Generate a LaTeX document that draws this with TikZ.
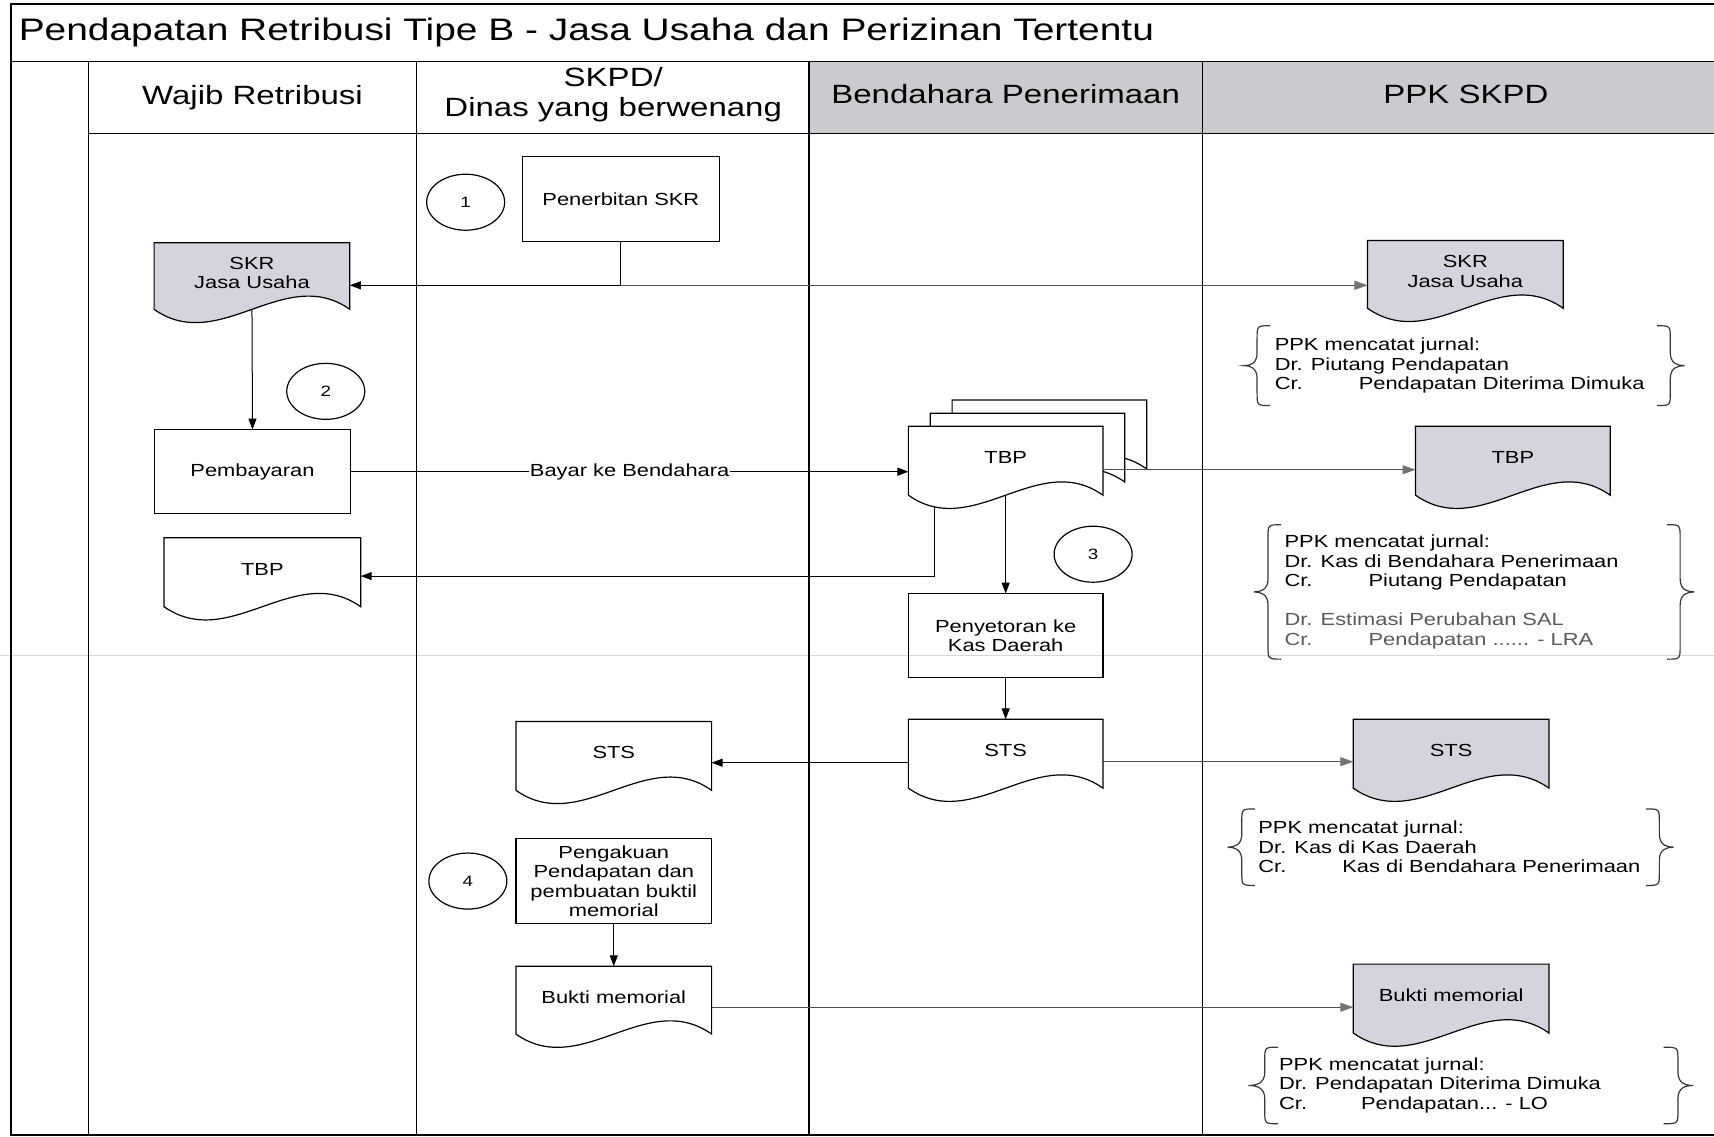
\documentclass[tikz,border=0pt]{standalone}
\usepackage{fontspec}
\setmainfont[FakeStretch=1.25]{Liberation Sans}
\usetikzlibrary{shapes.geometric,arrows.meta,calc}
\pgfdeclarelayer{background}
\pgfsetlayers{background,main}

\definecolor{hdrgray}{RGB}{203,203,207}
\definecolor{docgray}{RGB}{212,212,220}
\definecolor{linkgray}{RGB}{80,80,80}
\definecolor{tipgray}{RGB}{115,115,115}
\definecolor{bracegray}{RGB}{55,55,55}
\definecolor{softtext}{RGB}{90,90,90}
\definecolor{fold}{RGB}{215,215,215}

\newcommand{\titletxt}{\fontsize{31.1}{34}\selectfont}
\newcommand{\headtxt}{\fontsize{26.4}{29.5}\selectfont}
\newcommand{\bodytxt}{\fontsize{17.5}{19.5}\selectfont}
\newcommand{\numtxt}{\fontsize{15}{17}\selectfont}

\tikzset{
  lane/.style={line width=1.3pt},
  procbox/.style={draw, rectangle, line width=1.2pt, inner sep=0pt, outer sep=0pt, align=center, font=\bodytxt},
  docnode/.style={rectangle, inner sep=0pt, outer sep=0pt},
  doclabel/.style={align=center, font=\bodytxt, inner sep=0pt},
  docline/.style={line width=1.2pt},
  stepnum/.style={draw, ellipse, line width=1.2pt, minimum width=78pt, minimum height=56pt, inner sep=0pt, font=\numtxt},
  flow/.style={line width=1pt, -{Triangle[length=11pt,width=8pt]}},
  toppk/.style={line width=1pt, draw=linkgray, -{Triangle[length=13pt,width=9pt,color=tipgray]}},
  journal/.style={align=left, anchor=west, inner sep=0pt, font=\bodytxt},
  curlyline/.style={line width=1.2pt, draw=bracegray},
}

% document symbol: name, left x, top y, right x, side height, fill, text
\newcommand{\docshape}[7]{%
  \filldraw[docline, fill=#6] ({#2},{#3}) -- ({#4},{#3}) -- ({#4},{#3+#5})
    .. controls ({#4-(#4-#2)/3},{#3+#5-42}) and ({#2+(#4-#2)/3},{#3+#5+42}) .. ({#2},{#3+#5}) -- cycle;
  \node[docnode, minimum width={(#4-#2)*1.0931pt}, minimum height={(#5)*1.0931pt},
        label={[doclabel,yshift=3pt]center:{#7}}] (#1) at ({(#2+#4)/2},{#3+#5/2}) {};
}
% process box: name, x1, y1, x2, y2, text
\newcommand{\procshape}[6]{%
  \node[procbox, minimum width={(#4-#2)*1.0931pt}, minimum height={(#5-#3)*1.0931pt}]
    (#1) at ({(#2+#4)/2},{(#3+#5)/2}) {#6};
}
% curly brace: end x, spine x, tip x, top y, bottom y
\newcommand{\curly}[5]{%
  \draw[curlyline] ({#1},{#4}) .. controls ({#2},{#4}) .. ({#2},{#4+12})
    -- ({#2},{(#4+#5)/2-12}) .. controls ({#2},{(#4+#5)/2-2}) and ({(#2+#3)/2},{(#4+#5)/2}) .. ({#3},{(#4+#5)/2})
    .. controls ({(#2+#3)/2},{(#4+#5)/2}) and ({#2},{(#4+#5)/2+2}) .. ({#2},{(#4+#5)/2+12})
    -- ({#2},{#5-12}) .. controls ({#2},{#5}) .. ({#1},{#5});
}

\begin{document}
\begin{tikzpicture}[x=1.0931pt, y=-1.0931pt]
\useasboundingbox (0,0) rectangle (1568,1040);
\clip (0,0) rectangle (1568,1040);

% ---------- frame, header and swimlanes ----------
\begin{pgfonlayer}{background}
  \fill[white] (0,0) rectangle (1568,1040);
  \fill[hdrgray] (740,56) rectangle (1580,122);
  \draw[fold, line width=1.2pt] (0,600) -- (1568,600);
  \draw[line width=1.8pt] (10,4) rectangle (1590,1038);
  \draw[lane] (10,56) -- (1590,56);
  \draw[lane] (81,122) -- (1590,122);
  \draw[lane] (81,56) -- (81,1038);
  \draw[lane] (381,56) -- (381,1038);
  \draw[lane] (740,56) -- (740,1038);
  \draw[lane] (1100,56) -- (1100,1038);
\end{pgfonlayer}

\node[anchor=west, inner sep=0pt, font=\titletxt] (title) at (17,30)
  {Pendapatan Retribusi Tipe B - Jasa Usaha dan Perizinan Tertentu};
\node[font=\headtxt, inner sep=0pt] (h1) at (231,89) {Wajib Retribusi};
\node[font=\headtxt, inner sep=0pt, align=center] (h2) at (561,86.5) {SKPD/\\Dinas yang berwenang};
\node[font=\headtxt, inner sep=0pt] (h3) at (920,86) {Bendahara Penerimaan};
\node[font=\headtxt, inner sep=0pt] (h4) at (1341,86) {PPK SKPD};

% ---------- step markers ----------
\node[stepnum] (c1) at (426,185) {1};
\node[stepnum] (c2) at (298,358) {2};
\node[stepnum] (c3) at (1000,507) {3};
\node[stepnum] (c4) at (428,806) {4};

% ---------- process boxes ----------
\procshape{skr}{478}{143}{658}{221}{Penerbitan SKR}
\procshape{bayar}{141}{393}{321}{470}{Pembayaran}
\procshape{setor}{831}{543}{1009}{620}{Penyetoran ke\\Kas Daerah}
\procshape{akui}{472}{767}{651}{845}{Pengakuan\\Pendapatan dan\\pembuatan buktil\\memorial}

% ---------- documents ----------
\docshape{skrW}{141}{222}{320}{61}{docgray}{SKR\\Jasa Usaha}
\docshape{skrP}{1251}{220}{1430}{62}{docgray}{SKR\\Jasa Usaha}
\docshape{tbpW}{150}{492}{330}{63}{white}{TBP}
\docshape{tbpB3}{871}{366}{1049}{63}{white}{}
\docshape{tbpB2}{851}{378}{1029}{63}{white}{}
\docshape{tbpB}{831}{390}{1009}{63}{white}{TBP}
\docshape{tbpP}{1295}{390}{1473}{63}{docgray}{TBP}
\docshape{stsS}{472}{660}{651}{63}{white}{STS}
\docshape{stsB}{831}{658}{1009}{63}{white}{STS}
\docshape{stsP}{1238}{658}{1417}{63}{docgray}{STS}
\docshape{bmS}{472}{884}{651}{62}{white}{Bukti memorial}
\docshape{bmP}{1238}{882}{1417}{63}{docgray}{Bukti memorial}

% ---------- journal notes ----------
\curly{1162}{1150}{1138}{298}{371}
\curly{1516}{1528}{1541}{298}{371}
\node[journal] (jr1) at (1166,334.5)
  {PPK mencatat jurnal:\\Dr. Piutang Pendapatan\\\makebox[84pt][l]{Cr.}Pendapatan Diterima Dimuka};

\curly{1172}{1160}{1147}{480}{603}
\curly{1525}{1537}{1550}{480}{603}
\node[journal] (jr2) at (1175,541.5)
  {PPK mencatat jurnal:\\Dr. Kas di Bendahara Penerimaan\\\makebox[84pt][l]{Cr.}Piutang Pendapatan\\\mbox{}\\
   {\color{softtext}Dr. Estimasi Perubahan SAL}\\{\color{softtext}\makebox[84pt][l]{Cr.}Pendapatan ...... - LRA}};

\curly{1148}{1136}{1123}{740}{810}
\curly{1506}{1518}{1531}{740}{810}
\node[journal] (jr3) at (1151,775)
  {PPK mencatat jurnal:\\Dr. Kas di Kas Daerah\\\makebox[84pt][l]{Cr.}Kas di Bendahara Penerimaan};

\curly{1169}{1157}{1142}{958}{1028}
\curly{1522}{1535}{1549}{958}{1028}
\node[journal] (jr4) at (1170,993)
  {PPK mencatat jurnal:\\Dr. Pendapatan Diterima Dimuka\\\makebox[82pt][l]{Cr.}Pendapatan... - LO};

% ---------- connectors ----------
\coordinate (split) at (568,261);
\coordinate (back) at (855,527);
\begin{pgfonlayer}{background}
  \draw[line width=1pt] (skr.south) -- (split);
  \draw[flow] (split) -- (split -| skrW.east);
  \draw[toppk] (split) -- (split -| skrP.west);
  \draw[flow] (skrW.south) -- (bayar.north);
  \draw[flow] (bayar.east) -- node[fill=white, inner sep=1pt, font=\bodytxt] (bayarlbl) {Bayar ke Bendahara} (bayar.east -| tbpB.west);
  \draw[flow] (tbpB.south -| back) -- (back) -- (back -| tbpW.east);
  \draw[flow] (tbpB.south) -- (setor.north);
  \draw[flow] (setor.south) -- (stsB.north);
  \draw[flow] ([yshift=-9pt]stsB.west) -- ([yshift=-9pt]stsB.west -| stsS.east);
  \draw[toppk] ([yshift=-8pt]stsB.east) -- ([yshift=-8pt]stsB.east -| stsP.west);
  \draw[flow] (akui.south) -- (bmS.north);
  \draw[toppk] ([yshift=-7pt]bmS.east) -- ([yshift=-7pt]bmS.east -| bmP.west);
\end{pgfonlayer}
\draw[toppk] ([yshift=-9pt]tbpB.east) -- ([yshift=-9pt]tbpB.east -| tbpP.west);

\end{tikzpicture}
\end{document}
